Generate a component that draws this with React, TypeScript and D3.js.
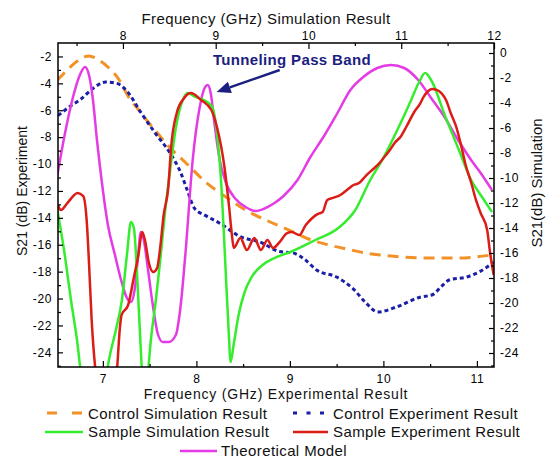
import React, { useEffect, useRef } from 'react';
import * as d3 from 'd3';

const W = 546;
const H = 460;
const FONT = '"Liberation Sans", Arial, Helvetica, sans-serif';

// Control simulation (top / right axes)
const controlSimFreq = [7.29, 7.40, 7.51, 7.63, 7.74, 7.85, 7.96, 8.06, 8.17, 8.28, 8.39, 8.49, 8.68, 8.89, 9.11, 9.32, 9.54, 9.79, 10.0, 10.22, 10.46, 10.68, 10.89, 11.26, 11.61, 11.97];
const controlSimDb = [-2.2, -1.36, -0.64, -0.24, -0.56, -1.2, -2.16, -3.52, -4.56, -5.6, -6.56, -7.44, -8.8, -10.32, -11.52, -12.56, -13.36, -14.16, -14.88, -15.36, -15.76, -16.08, -16.24, -16.4, -16.4, -16.16];

// Control experiment (bottom / left axes)
const controlExpFreq = [6.52, 6.65, 6.76, 6.89, 7.03, 7.15, 7.26, 7.4, 7.56, 7.72, 7.83, 7.9, 7.98, 8.09, 8.25, 8.47, 8.68, 8.89, 9.03, 9.16, 9.29, 9.5, 9.68, 9.81, 9.94, 10.15, 10.39, 10.53, 10.62, 10.71, 10.89, 11.03, 11.18];
const controlExpDb = [-6.4, -5.7, -5.2, -4.4, -3.9, -4.0, -4.6, -6.1, -7.7, -9.2, -10.6, -11.9, -13.3, -13.8, -14.4, -15.4, -15.8, -16.5, -16.6, -17.1, -17.9, -18.4, -19.3, -20.3, -21.0, -20.6, -19.9, -19.7, -19.1, -18.6, -18.4, -18.0, -17.3];

// Sample simulation (top / right axes)
const sampleSimFreq = [7.29, 7.365, 7.44, 7.505, 7.57, 7.688, 7.806, 7.849, 7.924, 7.989, 8.043, 8.086, 8.118, 8.15, 8.182, 8.215, 8.236, 8.258, 8.301, 8.355, 8.408, 8.462, 8.505, 8.57, 8.645, 8.699, 8.763, 8.871, 8.957, 9.01, 9.064, 9.107, 9.139, 9.161, 9.193, 9.247, 9.312, 9.387, 9.505, 9.634, 9.806, 10.075, 10.322, 10.505, 10.666, 10.795, 10.968, 11.107, 11.193, 11.258, 11.322, 11.473, 11.613, 11.753, 11.871, 11.978];
const sampleSimDb = [-12.4, -15.76, -19.76, -22.96, -26.96, -29.36, -26.56, -24.56, -22.16, -19.76, -16.16, -13.52, -14.0, -17.36, -22.16, -26.56, -27.76, -26.56, -22.96, -19.76, -16.16, -12.16, -9.6, -6.0, -3.76, -3.2, -3.44, -3.76, -4.24, -6.16, -10.96, -17.36, -22.16, -24.72, -23.36, -20.96, -19.12, -17.92, -16.96, -16.4, -15.92, -14.96, -14.0, -12.56, -10.16, -8.56, -6.0, -3.76, -2.32, -1.6, -2.16, -5.04, -7.6, -10.16, -11.52, -12.72];

// Sample experiment (bottom / left axes)
const sampleExpFreq = [6.52, 6.55, 6.62, 6.73, 6.79, 6.83, 6.85, 6.88, 6.92, 6.97, 7.08, 7.15, 7.18, 7.2, 7.27, 7.33, 7.38, 7.42, 7.45, 7.49, 7.54, 7.58, 7.61, 7.65, 7.7, 7.73, 7.79, 7.87, 7.94, 8.05, 8.16, 8.22, 8.3, 8.35, 8.38, 8.4, 8.47, 8.54, 8.62, 8.69, 8.76, 8.82, 8.89, 8.97, 9.02, 9.1, 9.17, 9.24, 9.3, 9.35, 9.4, 9.46, 9.54, 9.61, 9.68, 9.74, 9.81, 9.88, 9.94, 10.01, 10.07, 10.12, 10.19, 10.25, 10.33, 10.39, 10.43, 10.48, 10.52, 10.57, 10.62, 10.67, 10.72, 10.78, 10.83, 10.88, 10.94, 10.99, 11.04, 11.11, 11.14, 11.18];
const sampleExpDb = [-13.04, -13.42, -12.9, -12.15, -12.38, -14.53, -17.13, -21.59, -25.31, -27.54, -27.54, -25.31, -22.34, -21.22, -20.48, -18.47, -16.76, -15.05, -15.65, -17.28, -18.03, -17.73, -16.39, -13.79, -11.71, -8.73, -6.2, -5.09, -4.72, -5.24, -5.98, -7.25, -10.22, -13.19, -15.28, -16.24, -15.5, -16.39, -15.5, -16.39, -15.65, -16.24, -15.8, -15.13, -15.05, -15.28, -14.53, -14.01, -13.71, -13.57, -12.67, -12.52, -12.3, -11.93, -11.56, -11.41, -10.89, -10.44, -10.07, -9.48, -8.96, -8.43, -7.91, -7.17, -6.13, -5.54, -5.01, -4.57, -4.42, -4.49, -4.72, -5.24, -6.2, -7.25, -8.58, -10.07, -11.41, -12.67, -13.64, -14.9, -16.54, -18.25];

// Theoretical model (top / right axes)
const theoryFreq = [7.29, 7.376, 7.462, 7.527, 7.591, 7.634, 7.677, 7.72, 7.774, 7.838, 7.914, 7.989, 8.043, 8.086, 8.129, 8.161, 8.193, 8.225, 8.268, 8.322, 8.376, 8.43, 8.494, 8.57, 8.623, 8.677, 8.752, 8.828, 8.881, 8.914, 8.946, 8.989, 9.043, 9.107, 9.215, 9.322, 9.43, 9.537, 9.634, 9.731, 9.882, 10.021, 10.161, 10.312, 10.452, 10.591, 10.742, 10.892, 11.032, 11.183, 11.322, 11.473, 11.613, 11.753, 11.871, 11.978];
const theoryDb = [-9.9, -6.4, -3.52, -1.92, -1.12, -1.76, -3.76, -6.96, -10.4, -13.76, -16.16, -18.4, -19.6, -19.92, -18.8, -16.4, -14.32, -14.96, -17.2, -20.16, -22.48, -23.12, -23.12, -22.56, -20.16, -15.76, -8.56, -4.32, -2.8, -2.56, -3.2, -5.76, -8.56, -10.32, -11.68, -12.32, -12.64, -12.4, -12.0, -11.44, -10.16, -8.32, -6.72, -4.8, -2.96, -1.92, -1.2, -0.96, -1.2, -2.16, -3.6, -5.2, -6.96, -8.56, -9.76, -10.96];

// axis ticks
const expFreqTicks = [7, 8, 9, 10, 11];
const simFreqTicks = [8, 9, 10, 11, 12];
const expDbTicks = [-24, -22, -20, -18, -16, -14, -12, -10, -8, -6, -4, -2];
const simDbTicks = [-24, -22, -20, -18, -16, -14, -12, -10, -8, -6, -4, -2, 0];

// annotation (simulation axes)
const arrowTail = [9.69, -1.36];
const arrowTip = [9.01, -3.12];
const noteAt = [8.97, -0.96];

export default function App() {
  const svgRef = useRef<SVGSVGElement>(null);

  useEffect(() => {
    const svg = d3.select(svgRef.current);
    svg.selectAll('*').remove();

    svg.append('rect').attr('width', W).attr('height', H).attr('fill', '#fff');

    const left = 58, right = 494, top = 43, bottom = 367;

    const xExp = d3.scaleLinear().domain([6.52, 11.183]).range([left, right]);
    const xSim = d3.scaleLinear().domain([7.3, 12]).range([left, right]);
    const yExp = d3.scaleLinear().domain([-25.09, -1]).range([bottom, top]);
    const ySim = d3.scaleLinear().domain([-25.12, 0.8]).range([bottom, top]);

    svg.append('defs').append('clipPath').attr('id', 'plot-clip')
      .append('rect')
      .attr('x', left).attr('y', top)
      .attr('width', right - left).attr('height', bottom - top);

    const plot = svg.append('g').attr('clip-path', 'url(#plot-clip)');

    const series = [
      { f: controlSimFreq, v: controlSimDb, x: xSim, y: ySim, color: '#f29226', dash: '11,7', w: 3 },
      { f: controlExpFreq, v: controlExpDb, x: xExp, y: yExp, color: '#1b1fa8', dash: '4,3', w: 3 },
      { f: theoryFreq, v: theoryDb, x: xSim, y: ySim, color: '#e53be4', dash: null, w: 2.5 },
      { f: sampleSimFreq, v: sampleSimDb, x: xSim, y: ySim, color: '#36ec2e', dash: null, w: 2.5 },
      { f: sampleExpFreq, v: sampleExpDb, x: xExp, y: yExp, color: '#dc1c16', dash: null, w: 2.5 },
    ];

    series.forEach(s => {
      const line = d3.line<number>()
        .x((d, i) => s.x(s.f[i]))
        .y(d => s.y(d))
        .curve(d3.curveMonotoneX);
      const p = plot.append('path')
        .datum(s.v)
        .attr('fill', 'none')
        .attr('stroke', s.color)
        .attr('stroke-width', s.w)
        .attr('stroke-linejoin', 'round')
        .attr('d', line);
      if (s.dash) p.attr('stroke-dasharray', s.dash);
    });

    // Axes
    const fmt = (d: any) => String(d);
    const minor = (axis: any, vals: number[], size: number) =>
      axis.tickValues(vals).tickSize(size).tickFormat(() => '');

    svg.append('g').attr('transform', `translate(0,${bottom})`)
      .call(minor(d3.axisBottom(xExp), [7.5, 8.5, 9.5, 10.5], -3));
    svg.append('g').attr('transform', `translate(0,${bottom})`)
      .call(d3.axisBottom(xExp).tickValues(expFreqTicks).tickSize(-6).tickPadding(7).tickFormat(fmt));

    svg.append('g').attr('transform', `translate(0,${top})`)
      .call(minor(d3.axisTop(xSim), [7.5, 8.5, 9.5, 10.5, 11.5], -3));
    svg.append('g').attr('transform', `translate(0,${top})`)
      .call(d3.axisTop(xSim).tickValues(simFreqTicks).tickSize(-6).tickPadding(3).tickFormat(fmt));

    svg.append('g').attr('transform', `translate(${left},0)`)
      .call(minor(d3.axisLeft(yExp), d3.range(-25, -1, 2), -3));
    svg.append('g').attr('transform', `translate(${left},0)`)
      .call(d3.axisLeft(yExp).tickValues(expDbTicks).tickSize(-5).tickPadding(6).tickFormat(fmt));

    svg.append('g').attr('transform', `translate(${right},0)`)
      .call(minor(d3.axisRight(ySim), d3.range(-25, 0, 2), -3));
    svg.append('g').attr('transform', `translate(${right},0)`)
      .call(d3.axisRight(ySim).tickValues(simDbTicks).tickSize(-5).tickPadding(6).tickFormat(fmt));

    svg.selectAll('.domain').remove();
    svg.selectAll('.tick line').attr('stroke', '#000').attr('stroke-width', 1.2);
    svg.selectAll('.tick text')
      .attr('fill', '#000')
      .style('font-family', FONT)
      .style('font-size', '12px')
      .style('letter-spacing', '0.6px');

    svg.append('rect')
      .attr('x', left).attr('y', top)
      .attr('width', right - left).attr('height', bottom - top)
      .attr('fill', 'none').attr('stroke', '#000').attr('stroke-width', 1.5);

    // Titles
    const text = (x: number, y: number, s: string, size = 15, anchor = 'middle', spacing = 0.4) =>
      svg.append('text')
        .attr('x', x).attr('y', y)
        .attr('text-anchor', anchor)
        .style('font-family', FONT)
        .style('font-size', `${size}px`)
        .style('letter-spacing', `${spacing}px`)
        .attr('fill', '#111')
        .text(s);

    text(266, 24, 'Frequency (GHz)  Simulation Result');
    text(276, 399, 'Frequency (GHz)  Experimental Result', 14, 'middle', 0.8);

    svg.append('text')
      .attr('transform', 'translate(27,191) rotate(-90)')
      .attr('text-anchor', 'middle')
      .style('font-family', FONT).style('font-size', '14px')
      .attr('fill', '#111')
      .text('S21 (dB) Experiment');
    svg.append('text')
      .attr('transform', 'translate(542,183) rotate(-90)')
      .attr('text-anchor', 'middle')
      .style('font-family', FONT).style('font-size', '15px')
      .attr('fill', '#111')
      .text('S21(dB)  Simulation');

    // Annotation
    const navy = '#1b2080';
    const tx = xSim(arrowTail[0]), ty = ySim(arrowTail[1]);
    const hx = xSim(arrowTip[0]), hy = ySim(arrowTip[1]);
    const ang = Math.atan2(hy - ty, hx - tx);
    const len = 14, half = 6;
    const bx = hx - len * Math.cos(ang), by = hy - len * Math.sin(ang);
    svg.append('line')
      .attr('x1', tx).attr('y1', ty).attr('x2', bx).attr('y2', by)
      .attr('stroke', navy).attr('stroke-width', 2.5);
    svg.append('path')
      .attr('d', `M${hx},${hy}L${bx - half * Math.sin(ang)},${by + half * Math.cos(ang)}L${bx + half * Math.sin(ang)},${by - half * Math.cos(ang)}Z`)
      .attr('fill', navy);
    svg.append('text')
      .attr('x', xSim(noteAt[0])).attr('y', ySim(noteAt[1]))
      .style('font-family', FONT).style('font-size', '15px').style('font-weight', 'bold')
      .style('letter-spacing', '0.35px')
      .attr('fill', navy)
      .text('Tunneling Pass Band');

    // Legend
    const legend = [
      { x1: 47, x2: 82, y: 413, color: '#f29226', dash: '10,15', w: 3, label: 'Control Simulation Result', tx: 88, ty: 419 },
      { x1: 293, x2: 325, y: 413, color: '#1b1fa8', dash: '4,9.5', w: 3, label: 'Control Experiment Result', tx: 333, ty: 419 },
      { x1: 45, x2: 83, y: 432, color: '#36ec2e', dash: null, w: 2.5, label: 'Sample Simulation Result', tx: 88, ty: 437 },
      { x1: 293, x2: 328, y: 432, color: '#dc1c16', dash: null, w: 2.5, label: 'Sample Experiment Result', tx: 333, ty: 437 },
      { x1: 180, x2: 217, y: 451, color: '#e53be4', dash: null, w: 2.5, label: 'Theoretical Model', tx: 221, ty: 456 },
    ];
    legend.forEach(l => {
      const ln = svg.append('line')
        .attr('x1', l.x1).attr('x2', l.x2).attr('y1', l.y).attr('y2', l.y)
        .attr('stroke', l.color).attr('stroke-width', l.w);
      if (l.dash) ln.attr('stroke-dasharray', l.dash);
      text(l.tx, l.ty, l.label, 15, 'start');
    });
  }, []);

  return (
    <svg
      ref={svgRef}
      width={W}
      height={H}
      style={{ position: 'absolute', left: 0, top: 0, display: 'block' }}
    />
  );
}
